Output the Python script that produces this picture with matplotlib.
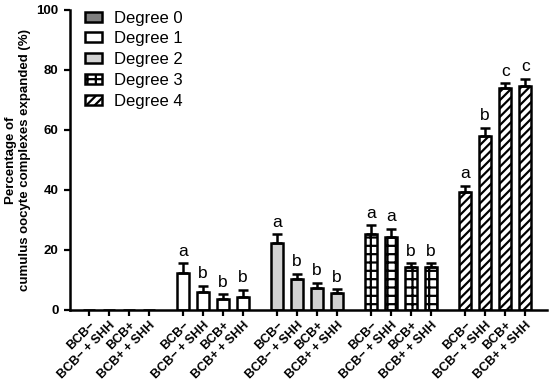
import matplotlib
matplotlib.use("Agg")
import matplotlib.pyplot as plt
import numpy as np

plt.rcParams['font.family'] = ['Liberation Sans', 'DejaVu Sans']
plt.rcParams['hatch.linewidth'] = 1.6

groups = ["Degree 0", "Degree 1", "Degree 2", "Degree 3", "Degree 4"]
treatments = ["BCB\u2212", "BCB\u2212 + SHH", "BCB+", "BCB+ + SHH"]
means = [
    [0, 0, 0, 0],
    [12.4, 6.1, 3.7, 4.4],
    [22.2, 10.4, 7.2, 5.6],
    [25.2, 24.2, 14.2, 14.2],
    [39.2, 58.1, 73.9, 74.7],
]
errors = [
    [0, 0, 0, 0],
    [3.1, 1.9, 1.6, 2.3],
    [3.1, 1.6, 1.9, 1.3],
    [3.0, 2.8, 1.3, 1.3],
    [2.2, 2.6, 1.7, 2.3],
]
letters = [
    ["", "", "", ""],
    ["a", "b", "b", "b"],
    ["a", "b", "b", "b"],
    ["a", "a", "b", "b"],
    ["a", "b", "c", "c"],
]
facecolors = ["#7f7f7f", "white", "#d2d2d2", "white", "white"]
hatches = [None, None, None, "++", "////"]

fig = plt.figure(figsize=(5.5, 3.82), dpi=100)
ax = fig.add_axes([0.127, 0.1885, 0.868, 0.7855])

group_step = 4.7
width = 0.6
ticks = []
ticklabels = []
for g in range(len(groups)):
    xs = g * group_step + np.arange(4)
    ax.bar(xs, means[g], width=width, color=facecolors[g], edgecolor="black",
           linewidth=1.8, hatch=hatches[g], label=groups[g], zorder=2)
    if g > 0:
        ax.errorbar(xs, means[g], yerr=[np.zeros(4), errors[g]], fmt="none",
                    ecolor="black", elinewidth=1.8, capsize=3.5, capthick=1.8, zorder=3)
    for x, m, e, l in zip(xs, means[g], errors[g], letters[g]):
        if l:
            ax.text(x, m + e + 1.5, l, ha="center", va="bottom", fontsize=12.5)
    ticks.extend(xs)
    ticklabels.extend(treatments)

ax.set_xticks(ticks)
ax.set_xticklabels(ticklabels, rotation=45, ha="right", va="top",
                   rotation_mode="anchor", fontsize=9, fontweight="bold")
ax.set_xlim(-0.95, 4 * group_step + 3 + 1.1)
ax.set_ylim(0, 100)
ax.set_yticks([0, 20, 40, 60, 80, 100])
ax.set_yticklabels(["0", "20", "40", "60", "80", "100"], fontsize=9.5, fontweight="bold")
ax.tick_params(axis="both", width=1.6, length=4.5, direction="out")
ax.tick_params(axis="x", pad=2)
for s in ["top", "right"]:
    ax.spines[s].set_visible(False)
for s in ["left", "bottom"]:
    ax.spines[s].set_linewidth(1.8)

ax.set_ylabel("Percentage of\ncumulus oocyte complexes expanded (%)",
              fontsize=9.5, fontweight="bold", labelpad=4)

ax.legend(loc="upper left", bbox_to_anchor=(0.031, 0.998), frameon=False,
          fontsize=12, handlelength=1.05, handleheight=0.55, labelspacing=0.35,
          handletextpad=0.7, borderaxespad=0, borderpad=0)

fig.savefig("out.png", dpi=100)
